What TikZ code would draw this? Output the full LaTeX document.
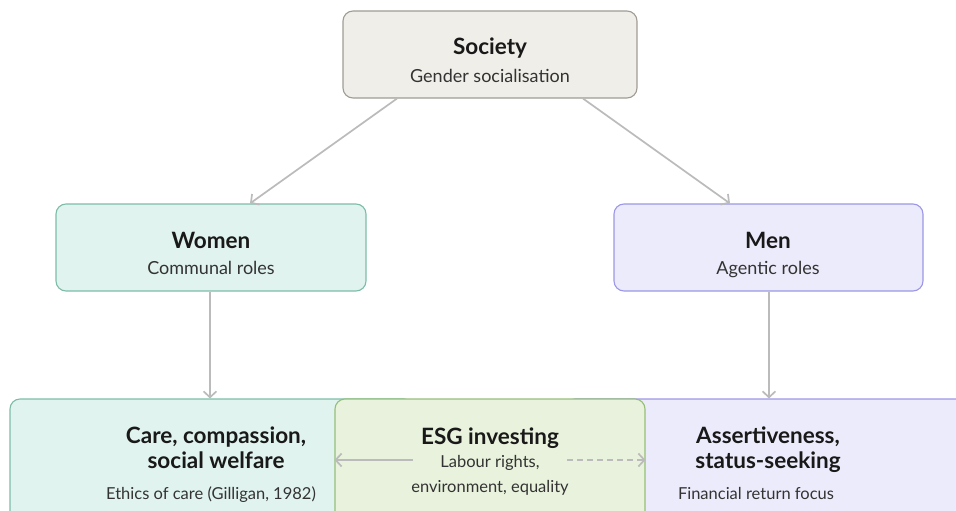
\documentclass[tikz,border=0pt]{standalone}
\usepackage{fontspec}
\setmainfont{Lato}
\usetikzlibrary{arrows.meta,calc}
\definecolor{socfill}{HTML}{F0EEE8}
\definecolor{socdraw}{HTML}{A09C94}
\definecolor{wfill}{HTML}{E0F3EE}
\definecolor{wdraw}{HTML}{7DBDA8}
\definecolor{mfill}{HTML}{ECEBFB}
\definecolor{mdraw}{HTML}{9C97E6}
\definecolor{efill}{HTML}{E8F2DC}
\definecolor{edraw}{HTML}{95BF78}
\definecolor{arr}{HTML}{BBBBBB}
\definecolor{subtext}{HTML}{333333}
\tikzset{
  box/.style={rounded corners=10pt, line width=1.1pt, inner sep=0pt},
  ttl/.style={anchor=base, font=\bfseries\fontsize{22.5}{25}\selectfont, text=black!90, align=center, inner sep=0pt},
  sub/.style={anchor=base, font=\fontsize{18}{20}\selectfont, text=subtext, inner sep=0pt},
  subs/.style={anchor=base, font=\fontsize{16.5}{25}\selectfont, text=subtext, align=center, inner sep=0pt},
  conn/.style={draw=arr, line width=1.7pt, -{Straight Barb[length=6pt,width=13pt,line width=1.7pt]}},
}
\begin{document}
\begin{tikzpicture}[x=1pt,y=-1pt]
\useasboundingbox (0,0) rectangle (956,511);
\clip (0,0) rectangle (956,511);
% boxes
\node[box, draw=socdraw, fill=socfill, minimum width=294pt, minimum height=87pt] (soc) at (490,54.5) {};
\node[box, draw=wdraw, fill=wfill, minimum width=310pt, minimum height=87pt] (women) at (211,247.5) {};
\node[box, draw=mdraw, fill=mfill, minimum width=309pt, minimum height=87pt] (men) at (768.5,247.5) {};
\node[box, draw=wdraw, fill=wfill, minimum width=404pt, minimum height=140pt] (care) at (212,469) {};
\node[box, draw=mdraw, fill=mfill, minimum width=404pt, minimum height=140pt] (assert) at (767,469) {};
\node[box, draw=edraw, fill=efill, minimum width=310pt, minimum height=140pt] (esg) at (490,469) {};
% texts
\node[ttl] (socT) at (490,55) {Society};
\node[sub] (socS) at (490,82) {Gender socialisation};
\node[ttl] (womT) at (211,248) {Women};
\node[sub] (womS) at (211,274) {Communal roles};
\node[ttl] (menT) at (768,248) {Men};
\node[sub] (menS) at (768,274) {Agentic roles};
\node[ttl] (careT1) at (216,443) {Care, compassion,};
\node[ttl] (careT2) at (216,468) {social welfare};
\node[subs] (careS) at (211,499) {Ethics of care (Gilligan, 1982)};
\node[ttl] (esgT) at (490,444) {ESG investing};
\node[subs] (esgS1) at (490,467) {Labour rights,};
\node[subs] (esgS2) at (490,492) {environment, equality};
\node[ttl] (asT1) at (768,443) {Assertiveness,};
\node[ttl] (asT2) at (768,468) {status-seeking};
\node[subs] (asS) at (756,499) {Financial return focus};
% connectors
\draw[conn] ($(soc.south)+(-93,0)$) -- ($(women.north)+(39,0)$);
\draw[conn] ($(soc.south)+(93,0)$) -- ($(men.north)+(-38.5,0)$);
\draw[conn] ($(women.south)+(-1,0)$) -- ($(care.north)+(-2,0)$);
\draw[conn] ($(men.south)+(0.5,0)$) -- ($(assert.north)+(2,0)$);
\coordinate (esgL) at (413,460);
\coordinate (esgR) at (567,460);
\draw[conn] (esgL) -- (esg.west |- esgL);
\draw[conn, dashed, dash pattern=on 6pt off 4pt] (esgR) -- (esg.east |- esgR);
\end{tikzpicture}
\end{document}
